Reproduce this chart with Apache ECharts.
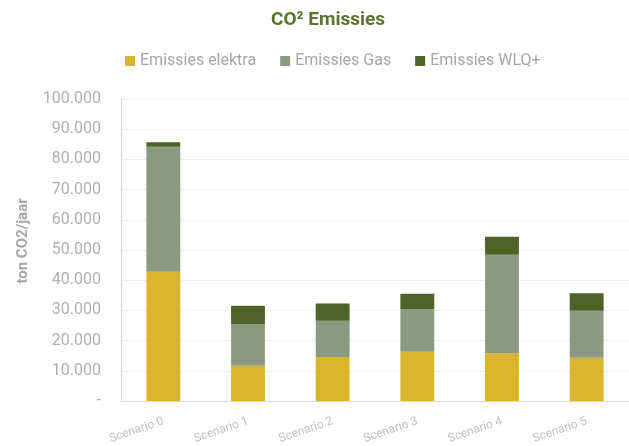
<!DOCTYPE html>
<html>
<head>
<meta charset="utf-8">
<script src="https://cdn.jsdelivr.net/npm/echarts@6/dist/echarts.min.js"></script>
<style>
  html, body { margin: 0; padding: 0; background: #fff; }
  #chart { width: 629px; height: 446px; }
</style>
</head>
<body>
<div id="chart"></div>
<script>
// categories
var scenarios = ["Scenario 0", "Scenario 1", "Scenario 2", "Scenario 3", "Scenario 4", "Scenario 5"];
// series values (ton CO2/jaar)
var elektra = [42800, 11700, 14600, 16300, 15800, 14300];
var gas = [41400, 13800, 12000, 14100, 32600, 15600];
var wlq = [1500, 6000, 5700, 5100, 6000, 5800];

var chart = echarts.init(document.getElementById("chart"));

// 10000 -> "10.000", 0 -> "-"
function fmt(v) {
  if (v === 0) return "-";
  return String(v).replace(/\B(?=(\d{3})+(?!\d))/g, ".");
}

var option = {
  animation: false,
  textStyle: { fontFamily: "Roboto" },
  title: {
    text: "CO² Emissies",
    left: 266,
    top: 6,
    textStyle: { color: "#5B7331", fontSize: 19, fontWeight: "bold" }
  },
  legend: {
    top: 48,
    left: 120,
    itemWidth: 10,
    itemHeight: 10,
    itemGap: 24,
    icon: "rect",
    textStyle: { color: "#A6A6A6", fontSize: 16 },
    data: ["Emissies elektra", "Emissies Gas", "Emissies WLQ+"]
  },
  grid: { left: 121, top: 99, width: 518, height: 302 },
  xAxis: {
    type: "category",
    data: scenarios,
    axisLine: { lineStyle: { color: "#D9D9D9" } },
    axisTick: { show: false },
    axisLabel: { color: "#BFBFBF", fontSize: 12, rotate: 19, margin: 20 }
  },
  yAxis: {
    type: "value",
    min: 0,
    max: 100000,
    interval: 10000,
    name: "ton CO2/jaar",
    nameLocation: "middle",
    nameGap: 90,
    nameTextStyle: { color: "#A6A6A6", fontSize: 15, fontWeight: "bold", padding: [0, 0, 0, 18] },
    axisLine: { show: true, lineStyle: { color: "#D9D9D9" } },
    splitLine: { lineStyle: { color: "#EEEEEE" } },
    axisLabel: { color: "#AFAFAF", fontSize: 16, margin: 20, formatter: fmt }
  },
  series: [
    { name: "Emissies elektra", type: "bar", stack: "t", barWidth: "40%", data: elektra, itemStyle: { color: "#D9B42C" } },
    { name: "Emissies Gas", type: "bar", stack: "t", data: gas, itemStyle: { color: "#8C9A82" } },
    { name: "Emissies WLQ+", type: "bar", stack: "t", data: wlq, itemStyle: { color: "#4F6328" } }
  ]
};

chart.setOption(option);
</script>
</body>
</html>
